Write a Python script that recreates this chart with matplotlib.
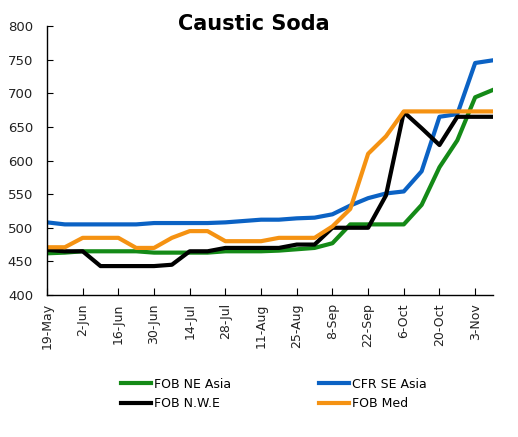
import matplotlib
matplotlib.use("Agg")
import matplotlib.pyplot as plt
import matplotlib.dates as mdates
import pandas as pd

# weekly assessments, 19-May to 10-Nov
dates = pd.date_range("2008-05-19", periods=26, freq="7D")

fob_ne_asia = [462, 463, 465, 465, 465, 465, 463, 463, 463, 463, 465, 465, 465,
               466, 468, 470, 477, 505, 505, 505, 505, 534, 590, 630, 694, 705]
cfr_se_asia = [508, 505, 505, 505, 505, 505, 507, 507, 507, 507, 508, 510, 512,
               512, 514, 515, 520, 533, 544, 551, 554, 584, 665, 669, 745, 749]
fob_nwe = [467, 465, 465, 443, 443, 443, 443, 445, 465, 465, 470, 470, 470,
           470, 475, 475, 500, 500, 500, 548, 672, 648, 623, 665, 665, 665]
fob_med = [471, 471, 485, 485, 485, 470, 470, 485, 495, 495, 480, 480, 480,
           485, 485, 485, 502, 528, 610, 636, 673, 673, 673, 673, 673, 673]

GREEN = "#148a17"
BLUE = "#0b62c4"
BLACK = "#000000"
ORANGE = "#f59212"

plt.rcParams["font.family"] = "DejaVu Sans"

fig = plt.figure(figsize=(5.18, 4.37), dpi=100)
ax = fig.add_axes([47 / 518, 1 - 295 / 437, 446 / 518, 269 / 437])

lw = 3.0
l1, = ax.plot(dates, fob_ne_asia, color=GREEN, lw=lw, label="FOB NE Asia")
l2, = ax.plot(dates, cfr_se_asia, color=BLUE, lw=lw, label="CFR SE Asia")
l3, = ax.plot(dates, fob_nwe, color=BLACK, lw=lw, label="FOB N.W.E")
l4, = ax.plot(dates, fob_med, color=ORANGE, lw=lw, label="FOB Med")

ax.set_ylim(400, 800)
ax.set_yticks(range(400, 801, 50))
ax.set_xlim(dates[0], dates[-1])
ax.set_xticks(pd.date_range(dates[0], dates[-1], freq="14D"))
ax.xaxis.set_major_formatter(mdates.DateFormatter("%-d-%b"))
ax.tick_params(axis="x", direction="in", length=5, rotation=90, labelsize=9,
               pad=6)
ax.tick_params(axis="y", direction="in", length=4, labelsize=9.5, pad=10)
ax.tick_params(colors="black", which="both", labelcolor="#222222")
for s in ("top", "right"):
    ax.spines[s].set_visible(False)
for s in ("left", "bottom"):
    ax.spines[s].set_linewidth(1.0)

fig.text(254 / 518, 1 - 24 / 437, "Caustic Soda", ha="center", va="center",
         fontsize=15, fontweight="heavy")

fig.legend([l1, l3, l2, l4],
           ["FOB NE Asia", "FOB N.W.E", "CFR SE Asia", "FOB Med"],
           ncol=2, frameon=False, loc="center",
           bbox_to_anchor=(274 / 518, 1 - 394 / 437),
           handlelength=2.4, handletextpad=0.25, columnspacing=7.0,
           labelspacing=0.55, fontsize=9)

fig.savefig("out.png", dpi=100)
